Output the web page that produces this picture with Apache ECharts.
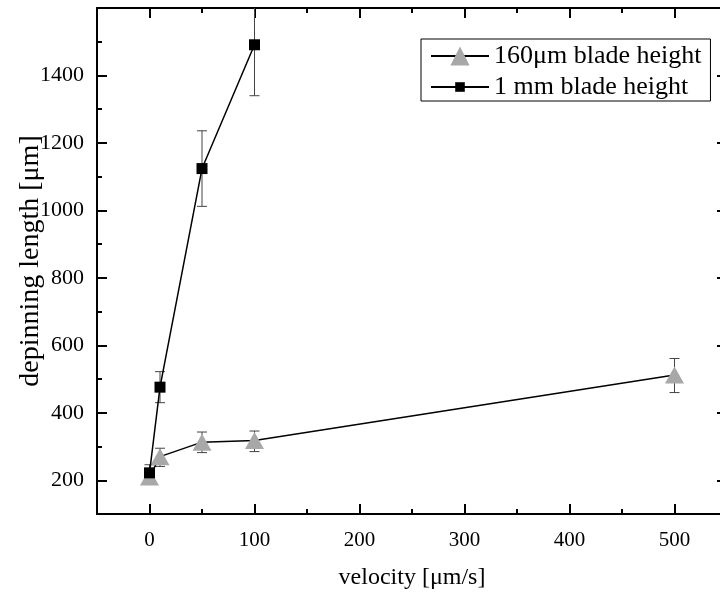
<!DOCTYPE html>
<html>
<head>
<meta charset="utf-8">
<script src="https://cdn.jsdelivr.net/npm/echarts@6/dist/echarts.min.js"></script>
<style>
  html, body { margin: 0; padding: 0; background: #fff; }
  #chart { width: 720px; height: 594px; }
</style>
</head>
<body>
<div id="chart"></div>
<script>
// 160 µm blade height
const velocity160 = [0, 10, 50, 100, 500]
const depin160 = [210, 270, 313, 318, 512]
const low160 = [198, 241, 282, 285, 460]
const high160 = [222, 295, 343, 346, 561]

// 1 mm blade height
const velocity1mm = [0, 10, 50, 100]
const depin1mm = [222, 476, 1124, 1491]
const low1mm = [196, 430, 1012, 1340]
const high1mm = [246, 522, 1236, 1642]

const xLabels = [0, 100, 200, 300, 400, 500]
const xMinor = [50, 150, 250, 350, 450]
const yLabels = [200, 400, 600, 800, 1000, 1200, 1400]
const yMinor = [100, 300, 500, 700, 900, 1100, 1300, 1500]

const X_MIN = -50, X_MAX = 550, Y_MIN = 100, Y_MAX = 1600
const font = '"Liberation Serif", "Times New Roman", serif'

// square with empty margin, so the legend draws it smaller than its box
const smallSquare = 'path://M0,0M20,20M5,5L15,5L15,15L5,15Z'

let chart = echarts.init(document.getElementById('chart'))

function xAxisDef (position, ticks, len, showLine, showLabel) {
  return {
    type: 'value', position: position, min: X_MIN, max: X_MAX, interval: 50,
    splitLine: { show: false },
    axisLine: { show: showLine, onZero: false, lineStyle: { color: '#000', width: 2 } },
    axisTick: { inside: true, length: len, customValues: ticks, lineStyle: { color: '#000', width: 2 } },
    axisLabel: {
      show: showLabel, customValues: xLabels, margin: 16, color: '#000',
      fontFamily: font, fontSize: 21, formatter: v => String(v)
    }
  }
}

function yAxisDef (position, ticks, len, showLine, showLabel) {
  return {
    type: 'value', position: position, min: Y_MIN, max: Y_MAX, interval: 100,
    splitLine: { show: false },
    axisLine: { show: showLine, onZero: false, lineStyle: { color: '#000', width: 2 } },
    axisTick: { inside: true, length: len, customValues: ticks, lineStyle: { color: '#000', width: 2 } },
    axisLabel: {
      show: showLabel, customValues: yLabels, margin: 13, color: '#000',
      fontFamily: font, fontSize: 22, formatter: v => String(v)
    }
  }
}

// error bars, clipped at the top of the plot
function errorBars (xs, lows, highs) {
  return {
    type: 'custom',
    silent: true,
    z: 1,
    data: xs.map((x, i) => [x, lows[i], highs[i]]),
    renderItem (params, api) {
      let x = api.value(0)
      let lo = api.coord([x, api.value(1)])
      let hiVal = api.value(2)
      let hi = api.coord([x, Math.min(hiVal, Y_MAX)])
      let style = { stroke: '#444', lineWidth: 1 }
      let children = [
        { type: 'line', shape: { x1: lo[0], y1: lo[1], x2: hi[0], y2: hi[1] }, style: style },
        { type: 'line', shape: { x1: lo[0] - 5, y1: lo[1], x2: lo[0] + 5, y2: lo[1] }, style: style }
      ]
      if (hiVal <= Y_MAX) {
        children.push({ type: 'line', shape: { x1: hi[0] - 5, y1: hi[1], x2: hi[0] + 5, y2: hi[1] }, style: style })
      }
      return { type: 'group', children: children }
    }
  }
}

let option = {
  animation: false,
  backgroundColor: '#fff',
  grid: { left: 97, right: -7, top: 8, bottom: 80, outerBoundsMode: 'none', containLabel: false },
  legend: {
    left: 421, top: 39,
    orient: 'vertical',
    itemWidth: 58, itemHeight: 24, itemGap: 5,
    padding: [4, 9, 1, 9],
    borderColor: '#000', borderWidth: 1, backgroundColor: '#fff',
    textStyle: { color: '#000', fontFamily: font, fontSize: 26 },
    data: ['160μm blade height', '1 mm blade height']
  },
  xAxis: [
    Object.assign(xAxisDef('bottom', xLabels, 10, true, true), {
      name: 'velocity [μm/s]', nameLocation: 'middle', nameGap: 52,
      nameTextStyle: { color: '#000', fontFamily: font, fontSize: 24 }
    }),
    xAxisDef('bottom', xMinor, 5, false, false),
    xAxisDef('top', xLabels, 10, true, false),
    xAxisDef('top', xMinor, 5, false, false)
  ],
  yAxis: [
    Object.assign(yAxisDef('left', yLabels, 10, true, true), {
      name: 'depinning length [μm]', nameLocation: 'middle', nameGap: 52,
      nameMoveOverlap: false,
      nameTextStyle: { color: '#000', fontFamily: font, fontSize: 28 }
    }),
    yAxisDef('left', yMinor, 5, false, false),
    yAxisDef('right', yLabels, 10, true, false),
    yAxisDef('right', yMinor, 5, false, false)
  ],
  series: [
    errorBars(velocity160, low160, high160),
    errorBars(velocity1mm, low1mm, high1mm),
    {
      name: '160μm blade height',
      type: 'line',
      z: 3,
      data: velocity160.map((x, i) => [x, depin160[i]]),
      symbol: 'triangle',
      symbolSize: [19, 17],
      lineStyle: { color: '#000', width: 1.5 },
      itemStyle: { color: '#a8a8a8' }
    },
    {
      name: '1 mm blade height',
      type: 'line',
      z: 4,
      data: velocity1mm.map((x, i) => [x, depin1mm[i]]),
      symbol: smallSquare,
      symbolSize: 22,
      lineStyle: { color: '#000', width: 1.5 },
      itemStyle: { color: '#000' }
    }
  ]
}

chart.setOption(option)
</script>
</body>
</html>
